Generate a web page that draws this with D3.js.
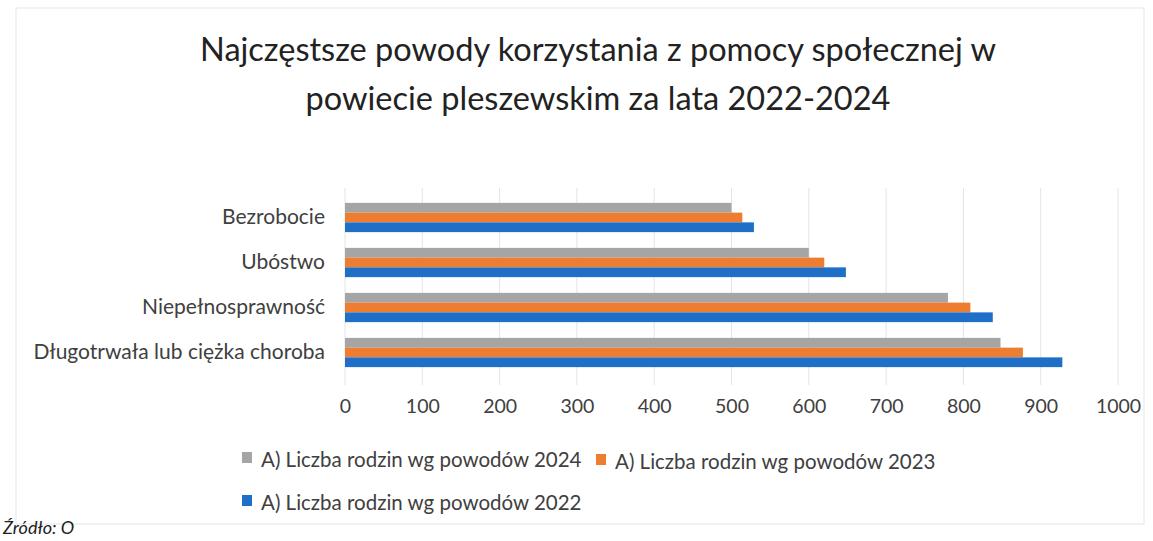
<!DOCTYPE html>
<html><head><meta charset="utf-8">
<script src="https://cdn.jsdelivr.net/npm/d3@7"></script>
<style>body{margin:0;background:#fff}svg{display:block}</style>
</head><body>
<script>
const categories = ["Bezrobocie","Ubóstwo","Niepełnosprawność","Długotrwała lub ciężka choroba"];
const seriesNames = ["A) Liczba rodzin wg powodów 2024","A) Liczba rodzin wg powodów 2023","A) Liczba rodzin wg powodów 2022"];
const values2024 = [500, 600, 780, 848];
const values2023 = [514, 620, 809, 877];
const values2022 = [529, 648, 838, 928];
const xTicks = [0,100,200,300,400,500,600,700,800,900,1000];
const titleLines = ["Najczęstsze powody korzystania z pomocy społecznej w","powiecie pleszewskim za lata 2022-2024"];

const series = [values2024, values2023, values2022];
const colors = ["#a5a5a5","#ed7d31","#1f6fc8"];
const W = 1153, H = 541;
const svg = d3.select("body").append("svg").attr("width",W).attr("height",H);
const font = "Lato, 'Open Sans', sans-serif";

svg.append("rect").attr("x",16).attr("y",8).attr("width",1128).attr("height",516)
  .attr("fill","none").attr("stroke","#eeeeee").attr("stroke-width",1.5);

svg.append("g").selectAll("text").data(titleLines).join("text")
  .attr("x",598).attr("y",(d,i)=>61+i*49).attr("text-anchor","middle")
  .attr("font-family",font).attr("font-size",32.5).attr("fill","#222").text(d=>d);

const x = d3.scaleLinear().domain([0,1000]).range([345,1118]);
const y = d3.scaleBand().domain(categories).range([195,375]).paddingInner(0.35).paddingOuter(0.175);
const ySub = d3.scaleBand().domain(d3.range(3)).range([0,y.bandwidth()]);

svg.append("g").selectAll("line").data(xTicks).join("line")
  .attr("x1",d=>x(d)).attr("x2",d=>x(d)).attr("y1",188).attr("y2",385)
  .attr("stroke","#e4e4e4").attr("stroke-width",1);

const gx = svg.append("g").attr("transform","translate(0,393)")
  .call(d3.axisBottom(x).tickValues(xTicks).tickFormat(d3.format("d")).tickSize(0).tickPadding(6));
gx.select(".domain").remove();
gx.selectAll("text").attr("font-family",font).attr("font-size",19.5).attr("fill","#404040");

const gy = svg.append("g").attr("transform","translate(325,0)")
  .call(d3.axisLeft(y).tickSize(0).tickPadding(0));
gy.select(".domain").remove();
gy.selectAll("text").attr("font-family",font).attr("font-size",21).attr("fill","#404040").attr("dy","0.3em");

series.forEach((vals,si)=>{
  svg.append("g").selectAll("rect").data(vals).join("rect")
    .attr("x",x(0)).attr("y",(d,i)=>y(categories[i])+ySub(si))
    .attr("width",d=>x(d)-x(0)).attr("height",ySub.bandwidth())
    .attr("fill",colors[si]);
});

const legendPos = [[242,467],[596,469],[242,510]];
const lg = svg.append("g");
seriesNames.forEach((n,i)=>{
  const [lx,ly] = legendPos[i];
  lg.append("rect").attr("x",lx).attr("y",ly-15).attr("width",10).attr("height",11).attr("fill",colors[i]);
  lg.append("text").attr("x",lx+19).attr("y",ly).attr("font-family",font).attr("font-size",20.5)
    .attr("fill","#404040").text(n);
});

svg.append("text").attr("x",3).attr("y",534).attr("font-family",font).attr("font-style","italic")
  .attr("font-size",18).attr("fill","#222").text("Źródło: O");
</script>
</body></html>
